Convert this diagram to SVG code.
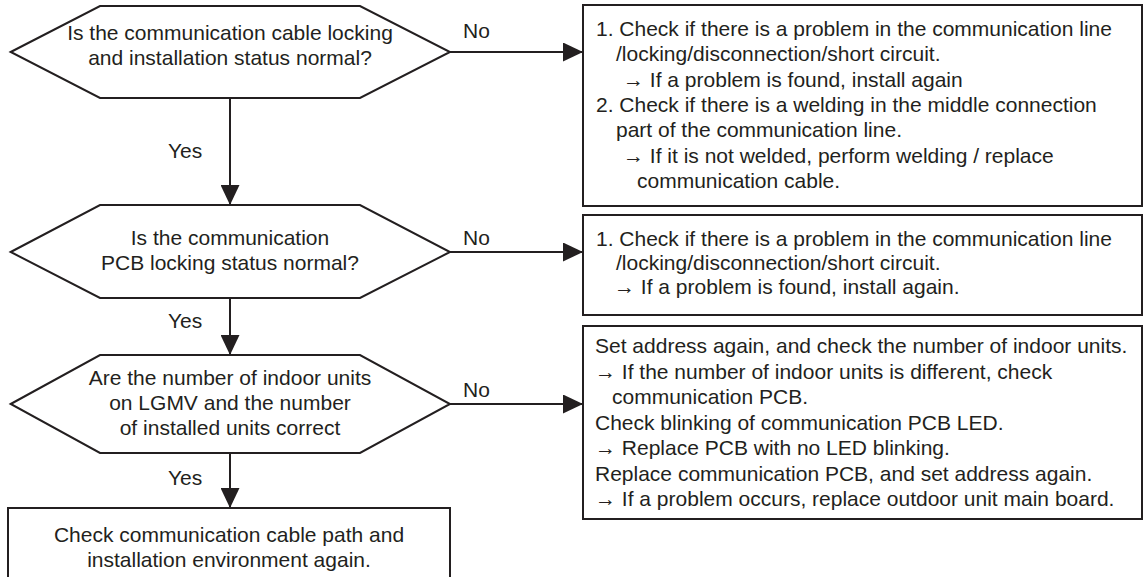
<svg xmlns="http://www.w3.org/2000/svg" width="1146" height="577" viewBox="0 0 1146 577">
<style>
  .shape { fill: #ffffff; stroke: #231f20; stroke-width: 2; }
  .conn { fill: none; stroke: #231f20; stroke-width: 2; }
  text { font-family: "Liberation Sans", Arial, sans-serif; font-size: 21px; fill: #231f20; }
  .c { text-anchor: middle; }
</style>
<defs>
  <marker id="ah" viewBox="0 0 20 19" refX="20" refY="9.5" markerWidth="20" markerHeight="19" markerUnits="userSpaceOnUse" orient="auto">
    <path d="M0,0 L20,9.5 L0,19 Z" fill="#231f20"/>
  </marker>
</defs>
<rect width="1146" height="577" fill="#ffffff"/>

<g id="connectors">
  <path class="conn" d="M230,98 V205" marker-end="url(#ah)"/>
  <path class="conn" d="M230,298 V355" marker-end="url(#ah)"/>
  <path class="conn" d="M230,453 V508" marker-end="url(#ah)"/>
  <path class="conn" d="M450,52 H583" marker-end="url(#ah)"/>
  <path class="conn" d="M450,252 H583" marker-end="url(#ah)"/>
  <path class="conn" d="M450,404 H583" marker-end="url(#ah)"/>
  <text x="168" y="158">Yes</text>
  <text x="168" y="328">Yes</text>
  <text x="168" y="485">Yes</text>
  <text x="463" y="38">No</text>
  <text x="463" y="245">No</text>
  <text x="463" y="397">No</text>
</g>

<g id="decision1">
  <polygon class="shape" points="10.7,52 100,6 360,6 450,52 360,98 100,98"/>
  <text class="c" x="230" y="40">Is the communication cable locking</text>
  <text class="c" x="230" y="65">and installation status normal?</text>
</g>

<g id="action1">
  <rect class="shape" x="583" y="5" width="559" height="201"/>
  <text x="596" y="36">1. Check if there is a problem in the communication line</text>
  <text x="616" y="61.3">/locking/disconnection/short circuit.</text>
  <text x="623" y="86.6">→ If a problem is found, install again</text>
  <text x="596" y="111.9">2. Check if there is a welding in the middle connection</text>
  <text x="616" y="137.2">part of the communication line.</text>
  <text x="623" y="162.5">→ If it is not welded, perform welding / replace</text>
  <text x="637" y="187.8">communication cable.</text>
</g>

<g id="decision2">
  <polygon class="shape" points="10.7,252 100,205 360,205 450,252 360,298 100,298"/>
  <text class="c" x="230" y="245">Is the communication</text>
  <text class="c" x="230" y="270">PCB locking status normal?</text>
</g>

<g id="action2">
  <rect class="shape" x="583" y="215" width="559" height="100"/>
  <text x="596" y="246">1. Check if there is a problem in the communication line</text>
  <text x="616" y="270">/locking/disconnection/short circuit.</text>
  <text x="614" y="294">→ If a problem is found, install again.</text>
</g>

<g id="decision3">
  <polygon class="shape" points="10.7,404 100,355 360,355 450,404 360,453 100,453"/>
  <text class="c" x="230" y="385">Are the number of indoor units</text>
  <text class="c" x="230" y="410">on LGMV and the number</text>
  <text class="c" x="230" y="435">of installed units correct</text>
</g>

<g id="action3">
  <rect class="shape" x="583" y="326" width="559" height="193"/>
  <text x="595" y="353">Set address again, and check the number of indoor units.</text>
  <text x="595" y="378.5">→ If the number of indoor units is different, check</text>
  <text x="612" y="404">communication PCB.</text>
  <text x="595" y="429.5">Check blinking of communication PCB LED.</text>
  <text x="595" y="455">→ Replace PCB with no LED blinking.</text>
  <text x="595" y="480.5">Replace communication PCB, and set address again.</text>
  <text x="595" y="506">→ If a problem occurs, replace outdoor unit main board.</text>
</g>

<g id="result">
  <rect class="shape" x="8" y="508" width="442" height="100"/>
  <text class="c" x="229" y="542">Check communication cable path and</text>
  <text class="c" x="229" y="567">installation environment again.</text>
</g>
</svg>
